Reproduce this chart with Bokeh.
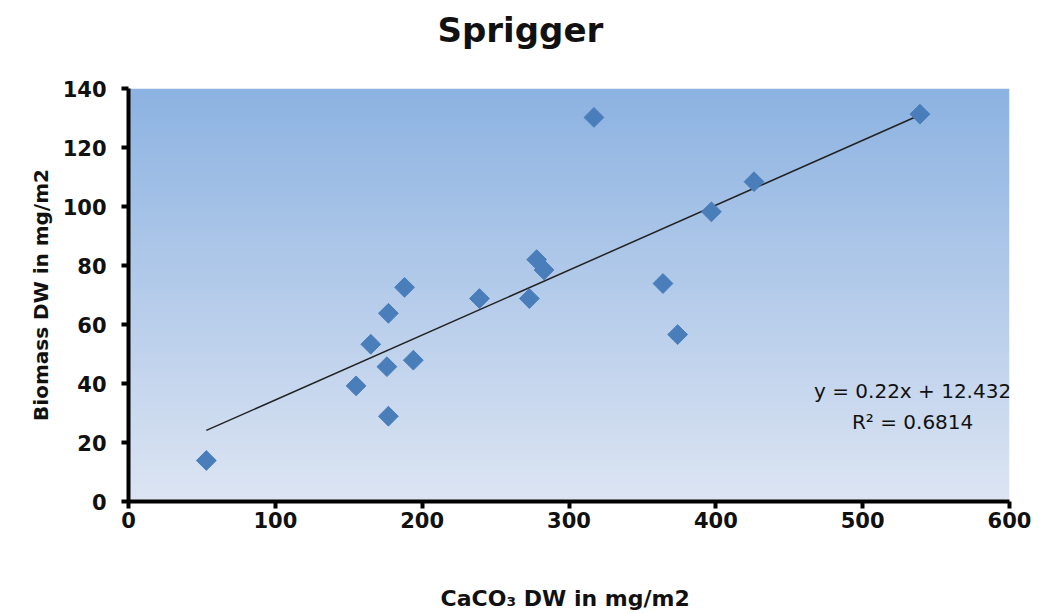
import numpy as np
from bokeh.plotting import figure
from bokeh.models import Label, Title, Range1d, FixedTicker
from bokeh.embed import file_html
from bokeh.resources import INLINE

caco3 = [53, 155, 165, 176, 177, 177, 188, 194, 239, 273, 278, 283, 317, 364, 374, 397, 426, 539]
biomass = [13.9, 39.2, 53.3, 45.7, 63.8, 28.9, 72.6, 47.9, 68.8, 68.8, 82.0, 78.5, 130.2, 73.9, 56.6, 98.2, 108.4, 131.3]
slope = 0.22
intercept = 12.432
title_text = "Sprigger"
eq_text = "y = 0.22x + 12.432"
r2_text = "R² = 0.6814"
x_ticks = [0, 100, 200, 300, 400, 500, 600]
y_ticks = [0, 20, 40, 60, 80, 100, 120, 140]

FONT = "DejaVu Sans"

p = figure(width=1051, height=613, output_backend="svg", toolbar_location=None,
           x_range=Range1d(0, 600), y_range=Range1d(0, 140),
           min_border_left=128, min_border_right=42, min_border_top=88, min_border_bottom=111)
p.title = None
p.outline_line_color = None
p.background_fill_color = "white"
p.border_fill_color = "white"

# gradient background in the plot area
top = np.array([141, 179, 226])
bot = np.array([221, 229, 243])
n = 256
img = np.zeros((n, 1), dtype=np.uint32)
view = img.view(dtype=np.uint8).reshape((n, 1, 4))
for i in range(n):
    t = i / (n - 1)
    c = bot * (1 - t) + top * t
    view[i, 0, 0] = int(c[0]); view[i, 0, 1] = int(c[1]); view[i, 0, 2] = int(c[2]); view[i, 0, 3] = 255
p.image_rgba(image=[img], x=0, y=0, dw=600, dh=140)

# trend line
xl = np.array([min(caco3), max(caco3)])
p.line(xl, slope * xl + intercept, line_color="#222222", line_width=1.5)

p.scatter(caco3, biomass, marker="square", angle=np.pi / 4, size=14,
          fill_color="#4A7EBB", line_color="#4A7EBB")

eq1 = Label(x=534, y=37.6, text=eq_text, text_align="center", text_baseline="middle",
            text_font=FONT, text_font_size="20px", text_color="#111111")
eq2 = Label(x=534, y=27.0, text=r2_text, text_align="center", text_baseline="middle",
            text_font=FONT, text_font_size="20px", text_color="#111111")
p.add_layout(eq1)
p.add_layout(eq2)

# spacer between frame and title, then the title above it
p.add_layout(Title(text=" ", text_font=FONT, text_font_size="1px", standoff=36), "above")
p.add_layout(Title(text=title_text, align="left", vertical_align="bottom", text_font=FONT,
                   text_font_style="bold", text_font_size="34px", text_color="#111111",
                   offset=309, standoff=0), "above")

for ax in (p.xaxis[0], p.yaxis[0]):
    ax.axis_line_width = 4
    ax.axis_line_color = "black"
    ax.major_tick_line_width = 4
    ax.major_tick_line_color = "black"
    ax.major_tick_out = 7
    ax.major_tick_in = 0
    ax.minor_tick_line_color = None
    ax.major_label_text_font = FONT
    ax.major_label_text_font_style = "bold"
    ax.major_label_text_font_size = "21px"
    ax.major_label_text_color = "#111111"
    ax.axis_label_text_font = FONT
    ax.axis_label_text_font_style = "bold"
    ax.axis_label_text_font_size = "20px"
    ax.axis_label_text_color = "#111111"

p.xaxis[0].axis_label_text_font_size = "22px"
p.xaxis[0].ticker = FixedTicker(ticks=x_ticks)
p.yaxis[0].ticker = FixedTicker(ticks=y_ticks)
p.xaxis[0].axis_label = "CaCO₃ DW  in mg/m2"
p.yaxis[0].axis_label = "Biomass DW in mg/m2"
p.xaxis[0].major_label_standoff = 3
p.yaxis[0].major_label_standoff = 15
p.xaxis[0].axis_label_standoff = 55
p.yaxis[0].axis_label_standoff = 7
p.xgrid.grid_line_color = None
p.ygrid.grid_line_color = None

open("out.html", "w").write(file_html(p, INLINE))
